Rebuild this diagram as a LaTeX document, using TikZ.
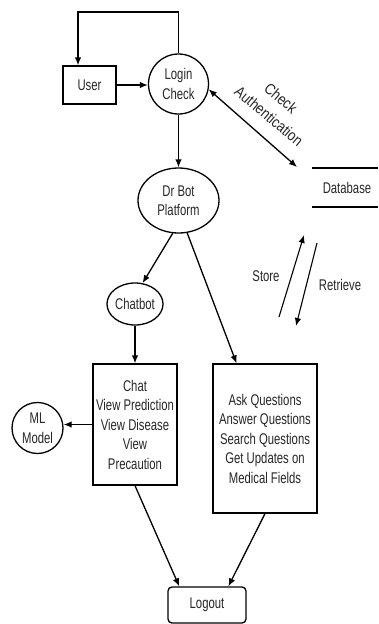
\documentclass[tikz,border=0pt]{standalone}
\usepackage{fontspec}
\setmainfont{Liberation Sans}[FakeStretch=0.73]
\newfontfamily\rotfont{Liberation Sans}[FakeStretch=0.85]
\usetikzlibrary{shapes.geometric,arrows.meta,calc}
\begin{document}
\begin{tikzpicture}[x=1pt,y=-1pt,
  line width=1.3pt,
  every node/.style={font=\fontsize{15.5}{19.5}\selectfont, text=black!85, align=center, inner sep=0pt},
  arr/.style={-{Latex[length=8pt,width=6.5pt]}},
  darr/.style={{Latex[length=8pt,width=6.5pt]}-{Latex[length=8pt,width=6.5pt]}},
  boxst/.style={draw, rectangle},
  circst/.style={draw, circle},
  ellst/.style={draw, ellipse},
  rotlbl/.style={font=\rotfont\fontsize{15.5}{19}\selectfont, rotate=-40}]
\useasboundingbox (0,0) rectangle (378,624);

% nodes
\node[boxst, minimum width=53pt, minimum height=38pt] (user) at (89.5,85) {User};
\node[circst, minimum size=60pt] (login) at (178.5,84) {Login\\Check};
\node[ellst, minimum width=81pt, minimum height=65pt] (drbot) at (178.5,200.5) {Dr Bot\\Platform};
\node[ellst, minimum width=54pt, minimum height=42pt] (chatbot) at (135,304) {Chatbot};
\node[boxst, minimum width=84pt, minimum height=121pt] (leftbox) at (135,424.5) {Chat\\View Prediction\\View Disease\\View\\Precaution};
\node[boxst, minimum width=104pt, minimum height=149pt] (rightbox) at (265,438.5) {Ask Questions\\Answer Questions\\Search Questions\\Get Updates on\\Medical Fields};
\node[circst, minimum size=51pt] (ml) at (37.5,428) {ML\\Model};
\node[boxst, rounded corners=4pt, minimum width=78pt, minimum height=36pt] (logout) at (207,605) {Logout};

% database store
\coordinate (dbtl) at (312,168);
\coordinate (dbtr) at (378,168);
\coordinate (dbbl) at (312,207);
\coordinate (dbbr) at (378,207);
\draw (dbtl) -- (dbtr);
\draw (dbbl) -- (dbbr);
\node (db) at (347,188) {Database};

% connectors
\coordinate (looptop) at (78,12);
\draw[arr] (login.north) |- (looptop) -- (user.north -| looptop);
\draw[arr] (user.east) -- (user.east -| login.west);
\draw[arr] (login.south) -- (drbot.north);
\coordinate (dbauth) at (297,167);
\draw[darr] (login.-10) -- (dbauth);
\node[rotlbl] (authlbl1) at (281,98) {Check};
\node[rotlbl] (authlbl2) at (269,116) {Authentication};

\draw[arr] (drbot.260) -- (chatbot.70);
\draw[arr] (drbot.-75) -- ($(rightbox.north west)!0.23!(rightbox.north east)$);
\draw[arr] (chatbot.south) -- (leftbox.north);
\draw[arr] (leftbox.west) -- (leftbox.west -| ml.east);
\draw[arr] (leftbox.south) -- ($(logout.north west)!0.15!(logout.north east)$);
\draw[arr] (rightbox.south) -- ($(logout.north west)!0.77!(logout.north east)$);

% store / retrieve
\coordinate (storeA) at (279,317);
\coordinate (storeB) at (304,235);
\coordinate (retrA) at (317,243);
\coordinate (retrB) at (296,326);
\draw[arr, line width=1.1pt] (storeA) -- (storeB);
\draw[arr, line width=1.1pt] (retrA) -- (retrB);
\node (storelbl) at (266,276) {Store};
\node (retrlbl) at (340,285) {Retrieve};
\end{tikzpicture}
\end{document}
